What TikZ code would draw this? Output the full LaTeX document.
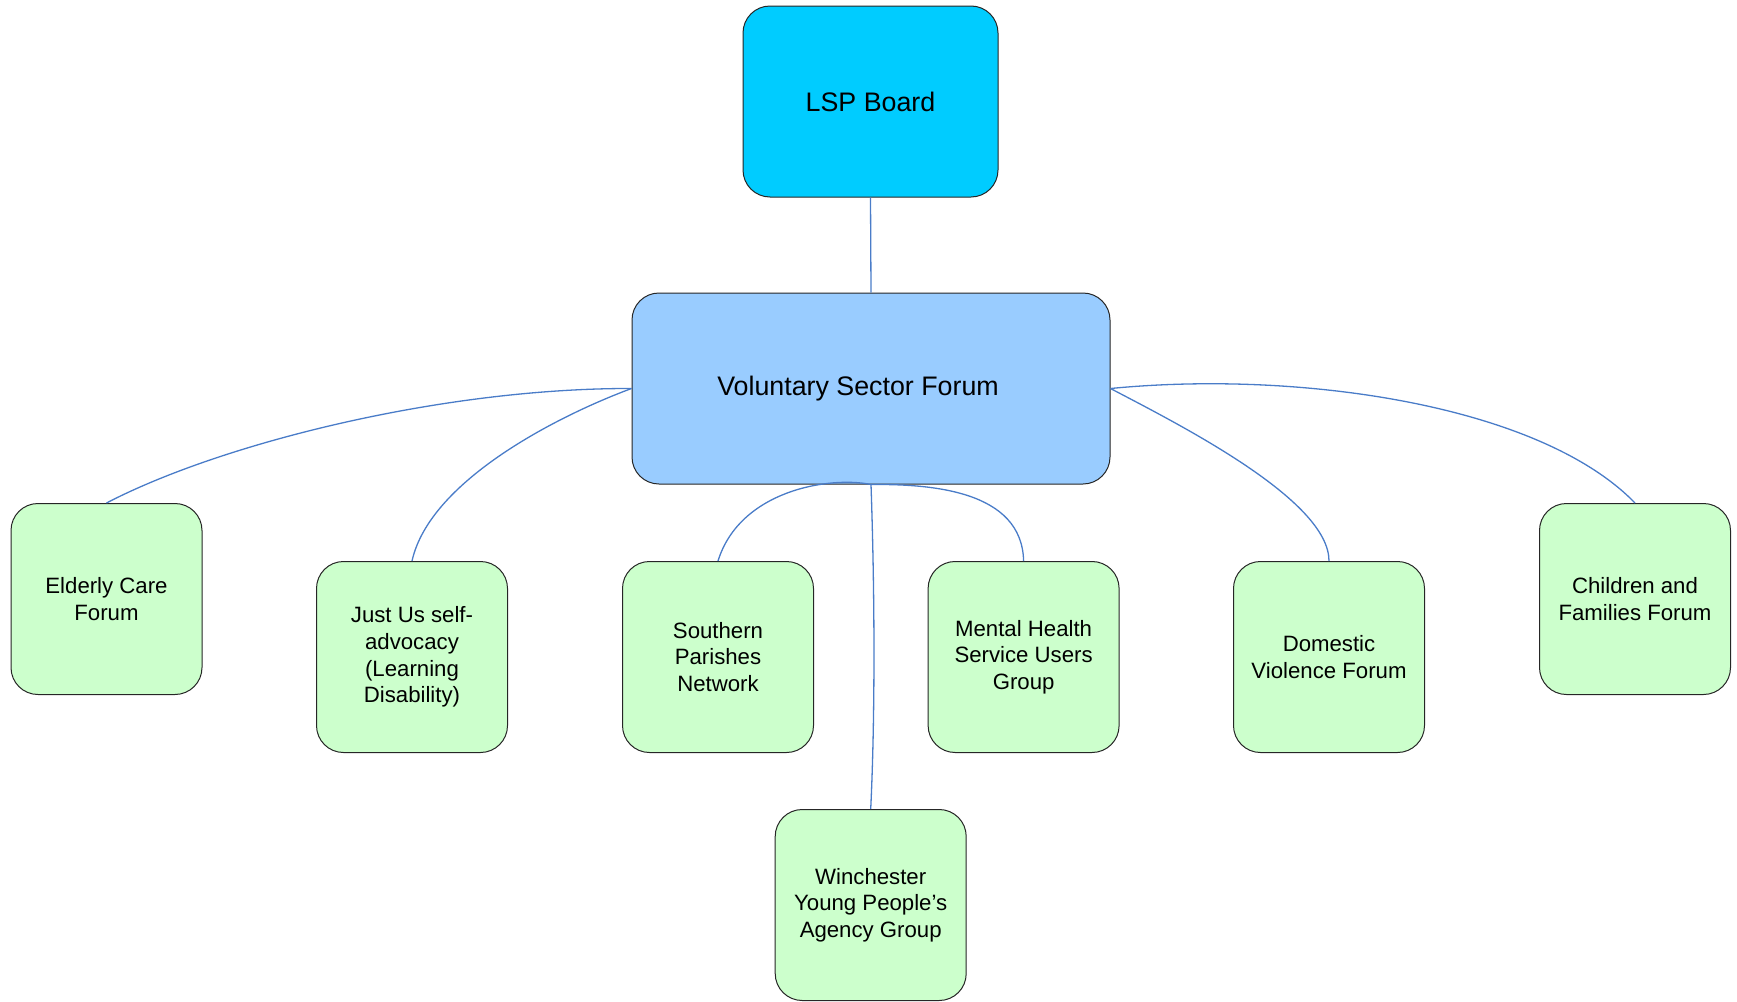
\documentclass[tikz,border=0pt]{standalone}
\usepackage{fontspec}
\setmainfont{Liberation Sans}
\definecolor{lspblue}{HTML}{00CCFF}
\definecolor{vsfblue}{HTML}{99CCFF}
\definecolor{forumgreen}{HTML}{CCFFCC}
\definecolor{linkblue}{HTML}{4A7CC8}
\begin{document}
\begin{tikzpicture}[x=1pt,y=-1pt,
  box/.style={draw=black!85, line width=1pt, rounded corners=27pt, inner sep=0pt, align=center},
  bigbox/.style={box, minimum height=191pt, font=\fontsize{26.8}{32}\selectfont},
  forum/.style={box, fill=forumgreen, minimum width=191pt, minimum height=191pt, font=\fontsize{22.2}{26.6}\selectfont},
  link/.style={draw=linkblue, line width=1.3pt}]
\useasboundingbox (0,0) rectangle (1737,1001);
\node[bigbox, fill=lspblue, minimum width=255pt] (lsp) at (870.5,101.5) {LSP Board};
\node[bigbox, fill=vsfblue, minimum width=478pt] (vsf) at (871,388.5) {Voluntary Sector Forum\hspace*{26pt}};
\node[forum] (eld) at (106.5,599) {Elderly Care\\Forum};
\node[forum] (just) at (412,657) {Just Us self-\\advocacy\\(Learning\\Disability)};
\node[forum] (south) at (718,657) {Southern\\Parishes\\Network};
\node[forum] (mental) at (1023.6,657) {Mental Health\\Service Users\\Group};
\node[forum] (dom) at (1329,657) {Domestic\\Violence Forum};
\node[forum] (child) at (1635,599) {Children and\\Families Forum};
\node[forum] (win) at (870.7,905) {Winchester\\Young People’s\\Agency Group};
\path[link] (lsp.south) -- (vsf.north);
\path[link] (vsf.west) .. controls (443,388) and (222,443) .. (eld.north);
\path[link] (vsf.west) .. controls (560,415) and (430,480) .. (just.north);
\path[link] (vsf.south) .. controls (830,476) and (740,490) .. (south.north);
\path[link] (vsf.south) .. controls (875,600) and (875,720) .. (win.north);
\path[link] (vsf.south) .. controls (930,484) and (1022,490) .. (mental.north);
\path[link] (vsf.east) .. controls (1180,425) and (1329,500) .. (dom.north);
\path[link] (vsf.east) .. controls (1300,370) and (1540,405) .. (child.north);
\end{tikzpicture}
\end{document}
